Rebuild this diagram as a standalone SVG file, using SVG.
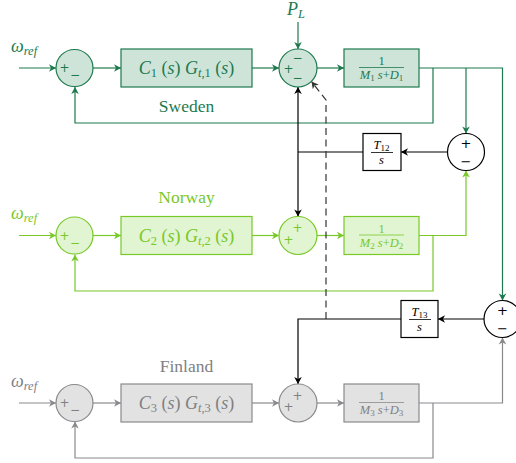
<svg xmlns="http://www.w3.org/2000/svg" width="516" height="463" viewBox="0 0 516 463">
<style>
text{font-family:"Liberation Serif",serif}
.i{font-style:italic}
.sw{stroke:#1d7a4e}
.no{stroke:#78c828}
.fi{stroke:#8a8a8e}
.bk{stroke:#000}
.ln{fill:none;stroke-width:1.2}
.swt{fill:#1d7a4e}
.not{fill:#78c828}
.fit{fill:#808084}
.bkt{fill:#000}
.swb{fill:#cfe4d9;stroke:#1d7a4e;stroke-width:1.2}
.nob{fill:#e1f5d2;stroke:#78c828;stroke-width:1.2}
.fib{fill:#e2e2e2;stroke:#8a8a8e;stroke-width:1.2}
.bkb{fill:#fff;stroke:#000;stroke-width:1.2}
.lbl{font-size:17.5px}
.sg{font-size:13px;font-family:"DejaVu Sans",sans-serif}
.sg2{font-size:12px;font-family:"DejaVu Sans",sans-serif}
.m{font-size:18px}
.s{font-size:12.5px}
.f{font-size:12.5px}
.fs{font-size:9px}
</style>
<defs>
<marker id="aS" markerWidth="10" markerHeight="10" refX="0" refY="0" viewBox="-8 -5 10 10" orient="auto" markerUnits="userSpaceOnUse"><path d="M-7,-3.8 L0,0 L-7,3.8 L-5,0 Z" fill="#1d7a4e"/></marker>
<marker id="aN" markerWidth="10" markerHeight="10" refX="0" refY="0" viewBox="-8 -5 10 10" orient="auto" markerUnits="userSpaceOnUse"><path d="M-7,-3.8 L0,0 L-7,3.8 L-5,0 Z" fill="#78c828"/></marker>
<marker id="aF" markerWidth="10" markerHeight="10" refX="0" refY="0" viewBox="-8 -5 10 10" orient="auto" markerUnits="userSpaceOnUse"><path d="M-7,-3.8 L0,0 L-7,3.8 L-5,0 Z" fill="#8a8a8e"/></marker>
<marker id="aB" markerWidth="10" markerHeight="10" refX="0" refY="0" viewBox="-8 -5 10 10" orient="auto" markerUnits="userSpaceOnUse"><path d="M-7,-3.8 L0,0 L-7,3.8 L-5,0 Z" fill="#000"/></marker>
<marker id="aD" markerWidth="10" markerHeight="10" refX="0" refY="0" viewBox="-8 -5 10 10" orient="auto" markerUnits="userSpaceOnUse"><path d="M-7,-3.8 L0,0 L-7,3.8 L-5,0 Z" fill="#333"/></marker>
</defs>

<g id="connectors">
<path class="ln sw" d="M19,68 H56" marker-end="url(#aS)"/>
<path class="ln sw" d="M93,68 H121" marker-end="url(#aS)"/>
<path class="ln sw" d="M252,68 H279" marker-end="url(#aS)"/>
<path class="ln sw" d="M298,22 V49" marker-end="url(#aS)"/>
<path class="ln sw" d="M317,68 H344" marker-end="url(#aS)"/>
<path class="ln sw" d="M419,68 H502.5 V300.5" marker-end="url(#aS)"/>
<path class="ln sw" d="M466,68 V133.5" marker-end="url(#aS)"/>
<path class="ln sw" d="M433,68 V123 H75 V87" marker-end="url(#aS)"/>
<path class="ln no" d="M19,235.5 H56" marker-end="url(#aN)"/>
<path class="ln no" d="M93,235.5 H121" marker-end="url(#aN)"/>
<path class="ln no" d="M252,235.5 H279" marker-end="url(#aN)"/>
<path class="ln no" d="M317,235.5 H344" marker-end="url(#aN)"/>
<path class="ln no" d="M419,235.5 H466 V170.5" marker-end="url(#aN)"/>
<path class="ln no" d="M433,235.5 V291 H75 V254.5" marker-end="url(#aN)"/>
<path class="ln fi" d="M19,403 H56" marker-end="url(#aF)"/>
<path class="ln fi" d="M93,403 H121" marker-end="url(#aF)"/>
<path class="ln fi" d="M252,403 H279" marker-end="url(#aF)"/>
<path class="ln fi" d="M317,403 H344" marker-end="url(#aF)"/>
<path class="ln fi" d="M419,403 H502.5 V337.5" marker-end="url(#aF)"/>
<path class="ln fi" d="M433,403 V458 H75 V421.5" marker-end="url(#aF)"/>
<path class="ln bk" d="M447.5,152 H401" marker-end="url(#aB)"/>
<path class="ln bk" d="M363,152 H298"/>
<path class="ln bk" d="M298,152 V87" marker-end="url(#aB)"/>
<path class="ln bk" d="M298,152 V216.5" marker-end="url(#aB)"/>
<path class="ln bk" d="M484,319 H438" marker-end="url(#aB)"/>
<path class="ln bk" d="M401,319 H298 V384" marker-end="url(#aB)"/>
<path class="ln" stroke="#333" stroke-dasharray="7,4.5" d="M326,319 V100 L311.5,81.5" marker-end="url(#aD)"/>
</g>

<g id="inputs">
<text x="11" y="52" class="swt"><tspan class="i m">ω</tspan><tspan class="i s" dy="3">ref</tspan></text>
<text x="11" y="219" class="not"><tspan class="i m">ω</tspan><tspan class="i s" dy="3">ref</tspan></text>
<text x="11" y="387" class="fit"><tspan class="i m">ω</tspan><tspan class="i s" dy="3">ref</tspan></text>
<text x="287" y="15" class="swt"><tspan class="i m">P</tspan><tspan class="i s" dy="3">L</tspan></text>
</g>
<text x="186.5" y="112" class="swt lbl" text-anchor="middle">Sweden</text>
<text x="186.5" y="203" class="not lbl" text-anchor="middle">Norway</text>
<text x="186.5" y="372" class="fit lbl" text-anchor="middle">Finland</text>

<g id="sum_s1">
<circle cx="74.5" cy="68" r="18.5" class="swb"/>
<text x="64.5" y="72" class="sg2 swt" text-anchor="middle">+</text>
<text x="75" y="79" class="sg2 swt" text-anchor="middle">−</text>
</g>
<g id="ctrl_s">
<rect x="121" y="49" width="131" height="38" class="swb"/>
<text x="186.5" y="74" class="swt m" text-anchor="middle"><tspan class="i">C</tspan><tspan class="s" dy="3">1</tspan><tspan dy="-3"> (</tspan><tspan class="i">s</tspan><tspan>) </tspan><tspan class="i">G</tspan><tspan class="i s" dy="3">t</tspan><tspan class="s">,1</tspan><tspan dy="-3"> (</tspan><tspan class="i">s</tspan><tspan>)</tspan></text>
</g>
<g id="sum_s2">
<circle cx="298" cy="68" r="19" class="swb"/>
<text x="288.5" y="72.5" class="sg2 swt" text-anchor="middle">+</text>
<text x="297.5" y="61.5" class="sg2 swt" text-anchor="middle">−</text>
<text x="297.5" y="81.5" class="sg2 swt" text-anchor="middle">−</text>
</g>
<g id="plant_s">
<rect x="344" y="49" width="75" height="38" class="swb"/>
<text x="381.5" y="65" class="swt f" text-anchor="middle">1</text>
<line x1="359" y1="67.5" x2="404" y2="67.5" stroke="#1d7a4e" stroke-width="0.8"/>
<text x="381.5" y="79" class="swt f" text-anchor="middle"><tspan class="i">M</tspan><tspan class="fs" dy="2">1</tspan><tspan class="i" dy="-2"> s</tspan><tspan>+</tspan><tspan class="i">D</tspan><tspan class="fs" dy="2">1</tspan></text>
</g>

<g id="sum_n1">
<circle cx="74.5" cy="235.5" r="18.5" class="nob"/>
<text x="64.5" y="239.5" class="sg2 not" text-anchor="middle">+</text>
<text x="75" y="246.5" class="sg2 not" text-anchor="middle">−</text>
</g>
<g id="ctrl_n">
<rect x="121" y="216.5" width="131" height="38" class="nob"/>
<text x="186.5" y="241.5" class="not m" text-anchor="middle"><tspan class="i">C</tspan><tspan class="s" dy="3">2</tspan><tspan dy="-3"> (</tspan><tspan class="i">s</tspan><tspan>) </tspan><tspan class="i">G</tspan><tspan class="i s" dy="3">t</tspan><tspan class="s">,2</tspan><tspan dy="-3"> (</tspan><tspan class="i">s</tspan><tspan>)</tspan></text>
</g>
<g id="sum_n2">
<circle cx="298" cy="235.5" r="19" class="nob"/>
<text x="288.5" y="243.5" class="sg2 not" text-anchor="middle">+</text>
<text x="297.5" y="232" class="sg2 not" text-anchor="middle">+</text>
</g>
<g id="plant_n">
<rect x="344" y="216.5" width="75" height="38" class="nob"/>
<text x="381.5" y="232.5" class="not f" text-anchor="middle">1</text>
<line x1="359" y1="235" x2="404" y2="235" stroke="#78c828" stroke-width="0.8"/>
<text x="381.5" y="246.5" class="not f" text-anchor="middle"><tspan class="i">M</tspan><tspan class="fs" dy="2">2</tspan><tspan class="i" dy="-2"> s</tspan><tspan>+</tspan><tspan class="i">D</tspan><tspan class="fs" dy="2">2</tspan></text>
</g>

<g id="sum_f1">
<circle cx="74.5" cy="403" r="18.5" class="fib"/>
<text x="64.5" y="407" class="sg2 fit" text-anchor="middle">+</text>
<text x="75" y="414" class="sg2 fit" text-anchor="middle">−</text>
</g>
<g id="ctrl_f">
<rect x="121" y="384" width="131" height="38" class="fib"/>
<text x="186.5" y="409" class="fit m" text-anchor="middle"><tspan class="i">C</tspan><tspan class="s" dy="3">3</tspan><tspan dy="-3"> (</tspan><tspan class="i">s</tspan><tspan>) </tspan><tspan class="i">G</tspan><tspan class="i s" dy="3">t</tspan><tspan class="s">,3</tspan><tspan dy="-3"> (</tspan><tspan class="i">s</tspan><tspan>)</tspan></text>
</g>
<g id="sum_f2">
<circle cx="298" cy="403" r="19" class="fib"/>
<text x="288.5" y="411" class="sg2 fit" text-anchor="middle">+</text>
<text x="297.5" y="399.5" class="sg2 fit" text-anchor="middle">+</text>
</g>
<g id="plant_f">
<rect x="344" y="384" width="75" height="38" class="fib"/>
<text x="381.5" y="400" class="fit f" text-anchor="middle">1</text>
<line x1="359" y1="402.5" x2="404" y2="402.5" stroke="#8a8a8e" stroke-width="0.8"/>
<text x="381.5" y="414" class="fit f" text-anchor="middle"><tspan class="i">M</tspan><tspan class="fs" dy="2">3</tspan><tspan class="i" dy="-2"> s</tspan><tspan>+</tspan><tspan class="i">D</tspan><tspan class="fs" dy="2">3</tspan></text>
</g>

<g id="diff12">
<circle cx="466" cy="152" r="18.5" class="bkb"/>
<text x="466" y="147.5" class="sg bkt" text-anchor="middle">+</text>
<text x="466" y="165.5" class="sg bkt" text-anchor="middle">−</text>
</g>
<g id="T12">
<rect x="363" y="133.5" width="38" height="37" class="bkb"/>
<text x="381.5" y="149" class="bkt f" text-anchor="middle"><tspan class="i">T</tspan><tspan class="fs" dy="2">12</tspan></text>
<line x1="371" y1="152.5" x2="393" y2="152.5" stroke="#000" stroke-width="0.8"/>
<text x="381.5" y="163.5" class="bkt f i" text-anchor="middle">s</text>
</g>
<g id="diff13">
<circle cx="502.5" cy="319" r="18.5" class="bkb"/>
<text x="502.5" y="314.5" class="sg bkt" text-anchor="middle">+</text>
<text x="502.5" y="332.5" class="sg bkt" text-anchor="middle">−</text>
</g>
<g id="T13">
<rect x="401" y="300.5" width="37" height="37" class="bkb"/>
<text x="419.5" y="316" class="bkt f" text-anchor="middle"><tspan class="i">T</tspan><tspan class="fs" dy="2">13</tspan></text>
<line x1="409" y1="319.5" x2="431" y2="319.5" stroke="#000" stroke-width="0.8"/>
<text x="419.5" y="330.5" class="bkt f i" text-anchor="middle">s</text>
</g>
</svg>
